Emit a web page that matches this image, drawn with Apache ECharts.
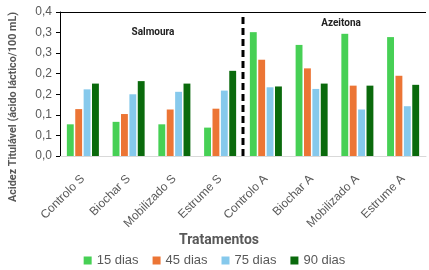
<!DOCTYPE html>
<html>
<head>
<meta charset="utf-8">
<script src="https://cdn.jsdelivr.net/npm/echarts@6/dist/echarts.min.js"></script>
<style>
  html, body { margin: 0; padding: 0; background: #fff; }
  #main { width: 429px; height: 270px; }
</style>
</head>
<body>
<div id="main"></div>
<script>
let categories = ['Controlo S', 'Biochar S', 'Mobilizado S', 'Estrume S',
                  'Controlo A', 'Biochar A', 'Mobilizado A', 'Estrume A'];
let seriesNames = ['15 dias', '45 dias', '75 dias', '90 dias'];
let dias15 = [0.077, 0.083, 0.077, 0.069, 0.301, 0.270, 0.297, 0.289];
let dias45 = [0.114, 0.102, 0.113, 0.115, 0.234, 0.213, 0.171, 0.195];
let dias75 = [0.162, 0.150, 0.156, 0.159, 0.167, 0.163, 0.113, 0.121];
let dias90 = [0.176, 0.182, 0.176, 0.207, 0.169, 0.176, 0.171, 0.173];
let colors = ['#47d055', '#ec7535', '#86c9ec', '#0a6a0c'];
let divider = [[4, 0], [4, 0.35]];   // linha entre Salmoura e Azeitona
let grey = '#595959';

let allData = [dias15, dias45, dias75, dias90];
let series = [];
for (let i = 0; i < seriesNames.length; i++) {
    series.push({
        name: seriesNames[i],
        type: 'bar',
        data: allData[i],
        itemStyle: { color: colors[i] },
        barGap: '22%',
        barCategoryGap: '30%'
    });
}
// linha do topo
series[0].markLine = {
    silent: true,
    symbol: 'none',
    label: { show: false },
    lineStyle: { color: '#000', width: 1, type: 'solid' },
    data: [{ yAxis: 0.35 }]
};
series.push({
    type: 'line',
    xAxisIndex: 1,
    data: divider,
    symbol: 'none',
    silent: true,
    lineStyle: { color: '#000', width: 3, type: [7, 4] }
});

let chart = echarts.init(document.getElementById('main'));
chart.setOption({
    animation: false,
    grid: { left: 60, right: 3, top: 12, bottom: 114 },
    legend: {
        data: seriesNames,
        bottom: -2,
        left: 'center',
        itemWidth: 8,
        itemHeight: 8,
        itemGap: 14,
        icon: 'rect',
        textStyle: { color: grey, fontSize: 13, fontFamily: 'Liberation Sans' }
    },
    xAxis: [{
        type: 'category',
        data: categories,
        axisLine: { lineStyle: { color: '#d9d9d9' } },
        axisTick: { show: false },
        axisLabel: { rotate: 45, color: grey, fontSize: 12, fontFamily: 'Liberation Sans', margin: 21 }
    }, {
        type: 'value',
        show: false,
        min: 0, max: 8
    }],
    yAxis: {
        type: 'value',
        min: 0, max: 0.35, interval: 0.05,
        axisLine: { show: true, lineStyle: { color: '#000' } },
        axisTick: { show: true, length: 4, lineStyle: { color: '#000' } },
        splitLine: { show: false },
        axisLabel: {
            color: grey, fontSize: 12, fontFamily: 'Liberation Sans', margin: 8,
            formatter: v => (Math.round(v * 10 + 1e-6) / 10).toFixed(1).replace('.', ',')
        }
    },
    graphic: [{
        type: 'text', x: 13, y: 107, rotation: Math.PI / 2,
        style: { text: 'Acidez Titulável (ácido láctico/100 mL)', fill: grey,
                 font: 'bold 10.8px Roboto', textAlign: 'center', textVerticalAlign: 'middle' }
    }, {
        type: 'text',
        style: { text: 'Salmoura', x: 153, y: 32, fill: '#222', font: 'bold 10px Roboto',
                 textAlign: 'center', textVerticalAlign: 'middle' }
    }, {
        type: 'text',
        style: { text: 'Azeitona', x: 341, y: 23, fill: '#222', font: 'bold 10px Roboto',
                 textAlign: 'center', textVerticalAlign: 'middle' }
    }, {
        type: 'text',
        style: { text: 'Tratamentos', x: 219, y: 240, fill: grey, font: 'bold 14px Roboto',
                 textAlign: 'center', textVerticalAlign: 'middle' }
    }],
    series: series
});
</script>
</body>
</html>
